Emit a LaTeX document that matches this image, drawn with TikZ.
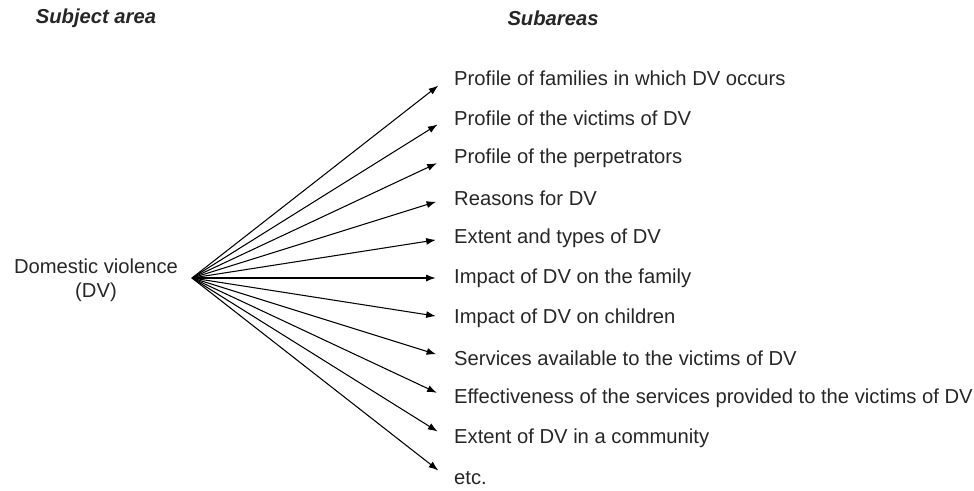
\documentclass[tikz,border=0pt]{standalone}
\usepackage{fontspec}
\setmainfont{Liberation Sans}
\usetikzlibrary{arrows.meta}
\begin{document}
\begin{tikzpicture}[every node/.style={font=\fontsize{11.5}{13.7}\selectfont, text=black!85}]
\useasboundingbox (0,0) rectangle (19.48,9.8);
\node[font=\fontsize{11.5}{13.7}\selectfont\bfseries\itshape] (sa) at (1.92,9.44) {Subject area};
\node[font=\fontsize{11.5}{13.7}\selectfont\bfseries\itshape] (sb) at (11.06,9.44) {Subareas};
\node[align=center] (dv) at (1.92,4.2) {Domestic violence\\(DV)};
\coordinate (c) at (3.84,4.24);
\node[anchor=west] (1) at (8.96,8.24) {Profile of families in which DV occurs};
\node[anchor=west] (2) at (8.96,7.44) {Profile of the victims of DV};
\node[anchor=west] (3) at (8.96,6.64) {Profile of the perpetrators};
\node[anchor=west] (4) at (8.96,5.84) {Reasons for DV};
\node[anchor=west] (5) at (8.96,5.04) {Extent and types of DV};
\node[anchor=west] (6) at (8.96,4.24) {Impact of DV on the family};
\node[anchor=west] (7) at (8.96,3.44) {Impact of DV on children};
\node[anchor=west] (8) at (8.96,2.64) {Services available to the victims of DV};
\node[anchor=west] (9) at (8.96,1.84) {Effectiveness of the services provided to the victims of DV};
\node[anchor=west] (10) at (8.96,1.04) {Extent of DV in a community};
\node[anchor=west] (11) at (8.96,0.24) {etc.};
\path[draw,line width=0.6pt,-{Latex[length=5.5pt,width=4pt]},shorten >=7pt] (c) -- (1.west);
\path[draw,line width=0.6pt,-{Latex[length=5.5pt,width=4pt]},shorten >=7pt] (c) -- (2.west);
\path[draw,line width=0.6pt,-{Latex[length=5.5pt,width=4pt]},shorten >=7pt] (c) -- (3.west);
\path[draw,line width=0.6pt,-{Latex[length=5.5pt,width=4pt]},shorten >=7pt] (c) -- (4.west);
\path[draw,line width=0.6pt,-{Latex[length=5.5pt,width=4pt]},shorten >=7pt] (c) -- (5.west);
\path[draw,line width=0.6pt,-{Latex[length=5.5pt,width=4pt]},shorten >=7pt] (c) -- (6.west);
\path[draw,line width=0.6pt,-{Latex[length=5.5pt,width=4pt]},shorten >=7pt] (c) -- (7.west);
\path[draw,line width=0.6pt,-{Latex[length=5.5pt,width=4pt]},shorten >=7pt] (c) -- (8.west);
\path[draw,line width=0.6pt,-{Latex[length=5.5pt,width=4pt]},shorten >=7pt] (c) -- (9.west);
\path[draw,line width=0.6pt,-{Latex[length=5.5pt,width=4pt]},shorten >=7pt] (c) -- (10.west);
\path[draw,line width=0.6pt,-{Latex[length=5.5pt,width=4pt]},shorten >=7pt] (c) -- (11.west);
\end{tikzpicture}
\end{document}
